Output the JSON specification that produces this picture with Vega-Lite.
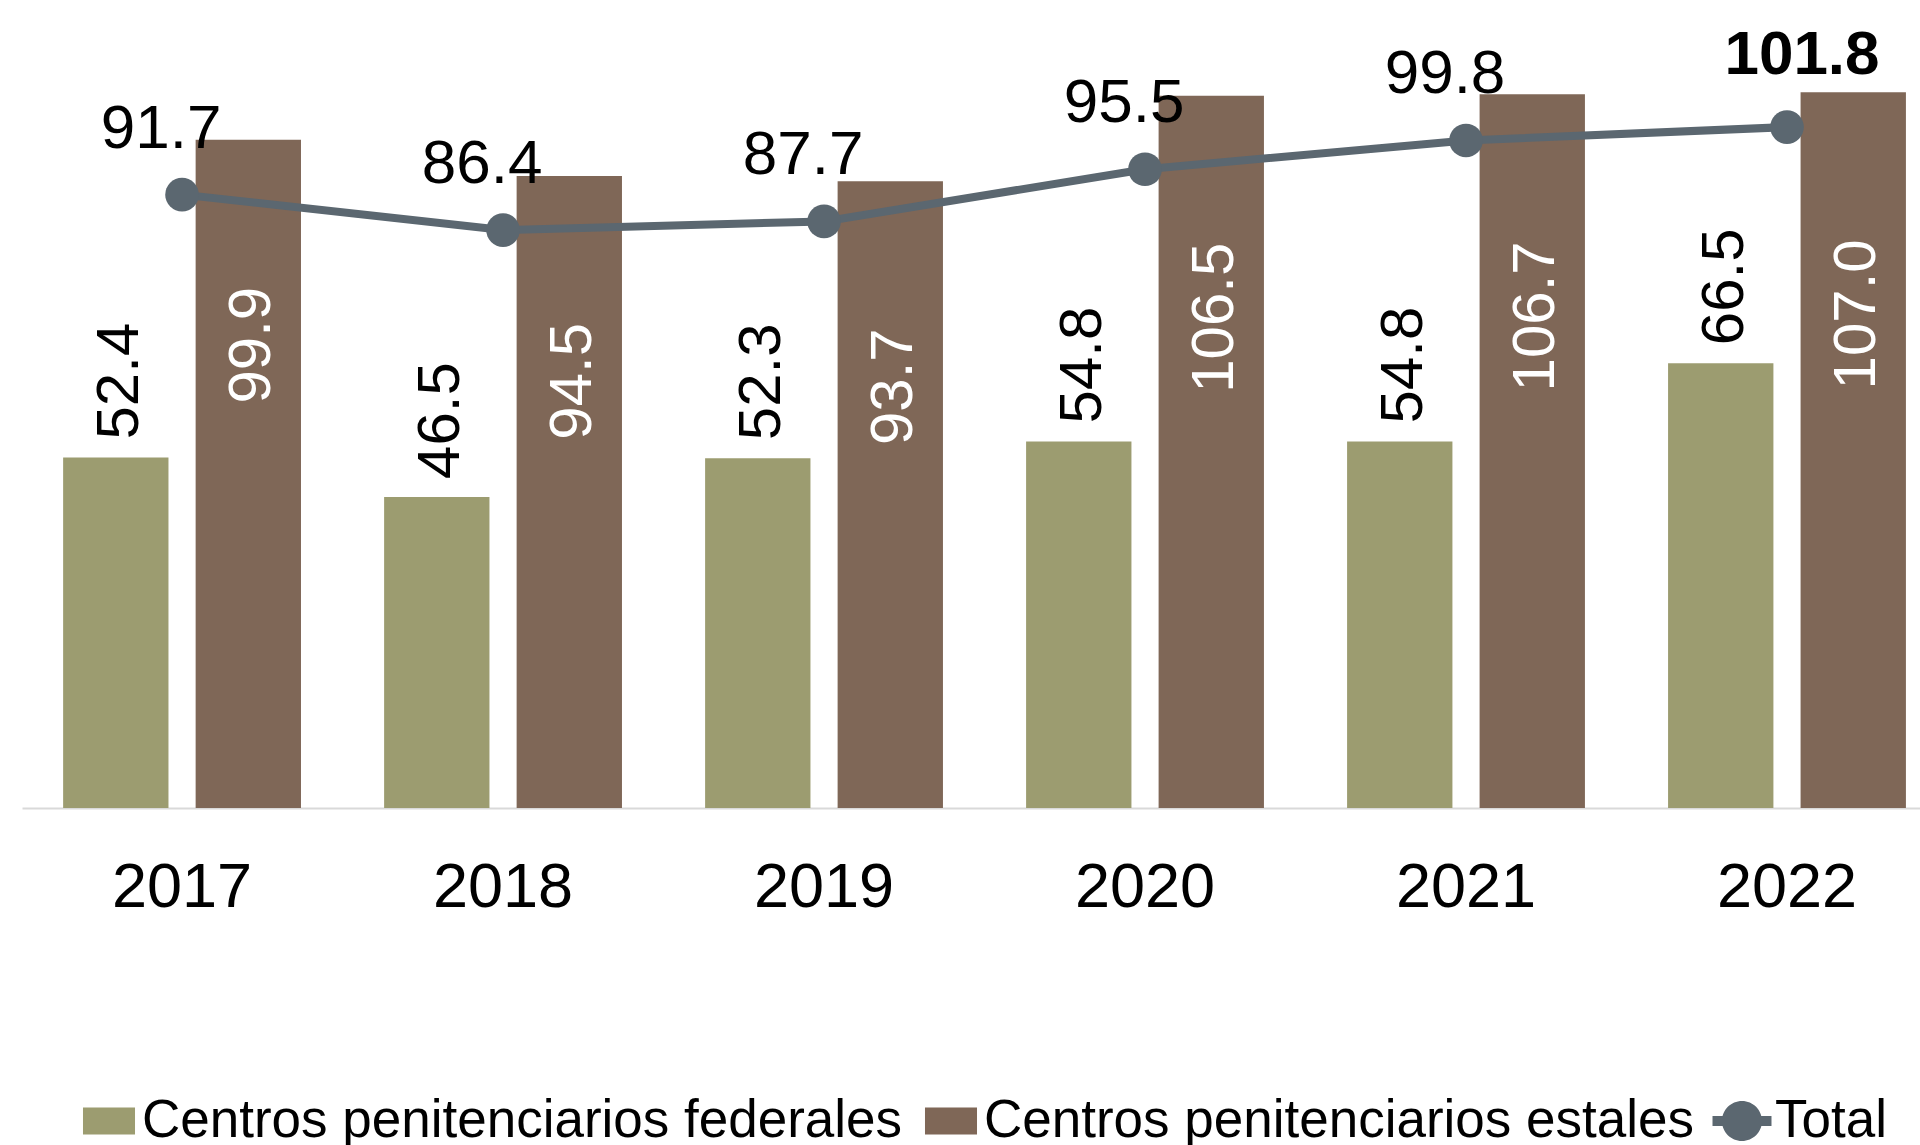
{
  "$schema": "https://vega.github.io/schema/vega-lite/v6.json",
  "width": 1898,
  "height": 808,
  "autosize": {"type": "none"},
  "padding": {"left": 22, "top": 0, "right": 0, "bottom": 337},
  "background": "white",
  "config": {"view": {"stroke": null}, "font": "Liberation Sans"},
  "datasets": {
    "bars": [
      {"year": "2017", "serie": "Centros penitenciarios federales", "value": 52.4},
      {"year": "2018", "serie": "Centros penitenciarios federales", "value": 46.5},
      {"year": "2019", "serie": "Centros penitenciarios federales", "value": 52.3},
      {"year": "2020", "serie": "Centros penitenciarios federales", "value": 54.8},
      {"year": "2021", "serie": "Centros penitenciarios federales", "value": 54.8},
      {"year": "2022", "serie": "Centros penitenciarios federales", "value": 66.5},
      {"year": "2017", "serie": "Centros penitenciarios estales", "value": 99.9},
      {"year": "2018", "serie": "Centros penitenciarios estales", "value": 94.5},
      {"year": "2019", "serie": "Centros penitenciarios estales", "value": 93.7},
      {"year": "2020", "serie": "Centros penitenciarios estales", "value": 106.5},
      {"year": "2021", "serie": "Centros penitenciarios estales", "value": 106.7},
      {"year": "2022", "serie": "Centros penitenciarios estales", "value": 107.0}
    ],
    "total": [
      {"year": "2017", "total": 91.7},
      {"year": "2018", "total": 86.4},
      {"year": "2019", "total": 87.7},
      {"year": "2020", "total": 95.5},
      {"year": "2021", "total": 99.8},
      {"year": "2022", "total": 101.8}
    ]
  },
  "layer": [
    {
      "data": {"name": "bars"},
      "mark": {"type": "bar"},
      "encoding": {
        "x": {
          "field": "year", "type": "nominal", "sort": null,
          "scale": {"paddingInner": 0.259, "paddingOuter": 0.086, "align": 0.745},
          "axis": {"title": null, "labelAngle": 0, "labelFontSize": 63, "labelFont": "Liberation Sans", "labelColor": "black", "labelPadding": 48, "ticks": false, "domainColor": "#d9d9d9", "domainWidth": 2, "grid": false}
        },
        "xOffset": {
          "field": "serie", "type": "nominal",
          "scale": {"domain": ["Centros penitenciarios federales", "Centros penitenciarios estales"], "paddingInner": 0.205, "paddingOuter": 0}
        },
        "y": {"field": "value", "type": "quantitative", "scale": {"domain": [0, 120.8], "nice": false, "zero": true}, "axis": null},
        "color": {
          "field": "serie", "type": "nominal",
          "scale": {"domain": ["Centros penitenciarios federales", "Centros penitenciarios estales", "Total"], "range": ["#9C9C70", "#7F6757", "#5B6770"]},
          "legend": {
            "orient": "none", "legendX": 57, "legendY": 1091, "direction": "horizontal", "title": null,
            "labelFontSize": 53, "labelFont": "Liberation Sans", "labelColor": "black", "labelLimit": 1200,
            "symbolSize": 3600, "symbolStrokeWidth": 0, "symbolOpacity": 1, "labelOffset": 3, "columnPadding": 18, "padding": 0,
            "encode": {"symbols": {"update": {"shape": {"signal": "datum.value === 'Total' ? 'M-0.983,-0.167H0.983V0.167H-0.983Z M0.667,0A0.667,0.667,0,1,1,-0.667,0A0.667,0.667,0,1,1,0.667,0Z' : 'M-0.867,-0.45H0.867V0.45H-0.867Z'"}}}}
          }
        }
      }
    },
    {
      "data": {"name": "bars"},
      "transform": [{"filter": "datum.serie === 'Centros penitenciarios federales'"}],
      "mark": {"type": "text", "angle": 270, "align": "left", "baseline": "middle", "dx": 18, "dy": 4, "fontSize": 60, "color": "black", "font": "Liberation Sans"},
      "encoding": {
        "x": {"field": "year", "type": "nominal", "sort": null},
        "xOffset": {"field": "serie", "type": "nominal"},
        "y": {"field": "value", "type": "quantitative"},
        "text": {"field": "value", "type": "quantitative", "format": ".1f"}
      }
    },
    {
      "data": {"name": "bars"},
      "transform": [{"filter": "datum.serie === 'Centros penitenciarios estales'"}],
      "mark": {"type": "text", "angle": 270, "align": "right", "baseline": "middle", "dx": -147, "dy": 4, "fontSize": 60, "color": "white", "font": "Liberation Sans"},
      "encoding": {
        "x": {"field": "year", "type": "nominal", "sort": null},
        "xOffset": {"field": "serie", "type": "nominal"},
        "y": {"field": "value", "type": "quantitative"},
        "text": {"field": "value", "type": "quantitative", "format": ".1f"}
      }
    },
    {
      "data": {"name": "total"},
      "mark": {"type": "line", "color": "#5B6770", "strokeWidth": 8},
      "encoding": {
        "x": {"field": "year", "type": "nominal", "sort": null},
        "y": {"field": "total", "type": "quantitative"}
      }
    },
    {
      "data": {"name": "total"},
      "mark": {"type": "circle", "color": "#5B6770", "size": 1134, "opacity": 1},
      "encoding": {
        "x": {"field": "year", "type": "nominal", "sort": null},
        "y": {"field": "total", "type": "quantitative"}
      }
    },
    {
      "data": {"name": "total"},
      "transform": [{"filter": "datum.year !== '2022'"}],
      "mark": {"type": "text", "align": "center", "baseline": "middle", "dx": -21, "dy": -66, "fontSize": 62, "color": "black", "font": "Liberation Sans"},
      "encoding": {
        "x": {"field": "year", "type": "nominal", "sort": null},
        "y": {"field": "total", "type": "quantitative"},
        "text": {"field": "total", "type": "quantitative", "format": ".1f"}
      }
    },
    {
      "data": {"name": "total"},
      "transform": [{"filter": "datum.year === '2022'"}],
      "mark": {"type": "text", "align": "center", "baseline": "middle", "dx": 15, "dy": -72, "fontSize": 62, "fontWeight": "bold", "color": "black", "font": "Liberation Sans"},
      "encoding": {
        "x": {"field": "year", "type": "nominal", "sort": null},
        "y": {"field": "total", "type": "quantitative"},
        "text": {"field": "total", "type": "quantitative", "format": ".1f"}
      }
    }
  ]
}
